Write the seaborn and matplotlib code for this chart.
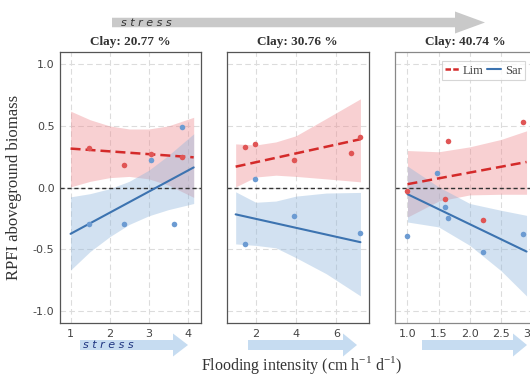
import matplotlib
matplotlib.use("Agg")
import matplotlib.pyplot as plt
import seaborn as sns
import pandas as pd
from matplotlib.patches import Polygon
from matplotlib.lines import Line2D

# ---------------- data ----------------
clay_titles = ["Clay: 20.77 %", "Clay: 30.76 %", "Clay: 40.74 %"]
species = ["Lim", "Sar"]

# Panel 1 (Clay 20.77 %)
p1_lim_x = [1.48, 2.38, 3.05, 3.85]
p1_lim_y = [0.32, 0.18, 0.27, 0.25]
p1_sar_x = [1.48, 2.38, 3.05, 3.64, 3.85]
p1_sar_y = [-0.30, -0.30, 0.22, -0.30, 0.49]
p1_fit_x = [1.0, 4.15]
p1_lim_fit = [0.316, 0.245]
p1_sar_fit = [-0.376, 0.163]
p1_band_x = [1.0, 1.5, 2.0, 2.5, 3.0, 3.5, 4.15]
p1_lim_hi = [0.62, 0.55, 0.50, 0.475, 0.475, 0.50, 0.57]
p1_lim_lo = [0.005, 0.05, 0.08, 0.09, 0.07, 0.02, -0.08]
p1_sar_hi = [-0.076, -0.05, -0.01, 0.05, 0.14, 0.26, 0.436]
p1_sar_lo = [-0.67, -0.52, -0.40, -0.30, -0.23, -0.18, -0.13]

# Panel 2 (Clay 30.76 %)
p2_lim_x = [1.47, 1.95, 3.9, 6.72, 7.2]
p2_lim_y = [0.33, 0.357, 0.223, 0.283, 0.414]
p2_sar_x = [1.47, 1.95, 3.9, 7.2]
p2_sar_y = [-0.455, 0.065, -0.234, -0.368]
p2_fit_x = [1.0, 7.2]
p2_lim_fit = [0.169, 0.392]
p2_sar_fit = [-0.218, -0.444]
p2_band_x = [1.0, 2.0, 3.0, 4.0, 5.5, 7.2]
p2_lim_hi = [0.354, 0.345, 0.37, 0.42, 0.56, 0.72]
p2_lim_lo = [0.005, 0.085, 0.10, 0.09, 0.07, 0.046]
p2_sar_hi = [-0.035, -0.12, -0.11, -0.07, -0.045, -0.04]
p2_sar_lo = [-0.458, -0.47, -0.49, -0.57, -0.70, -0.88]

# Panel 3 (Clay 40.74 %)
p3_lim_x = [1.0, 1.6, 1.645, 2.215, 2.86]
p3_lim_y = [-0.027, -0.095, 0.379, -0.267, 0.531]
p3_sar_x = [1.0, 1.48, 1.6, 1.645, 2.215, 2.86]
p3_sar_y = [-0.39, 0.12, -0.158, -0.248, -0.523, -0.381]
p3_fit_x = [1.0, 2.91]
p3_lim_fit = [0.027, 0.207]
p3_sar_fit = [-0.054, -0.52]
p3_band_x = [1.0, 1.5, 2.0, 2.5, 2.91]
p3_lim_hi = [0.30, 0.29, 0.33, 0.39, 0.46]
p3_lim_lo = [-0.24, -0.11, -0.06, -0.055, -0.055]
p3_sar_hi = [0.174, 0.005, -0.13, -0.185, -0.226]
p3_sar_lo = [-0.28, -0.32, -0.47, -0.675, -0.88]

y_ticks = [-1.0, -0.5, 0.0, 0.5, 1.0]
x_ticks = [[1, 2, 3, 4], [2, 4, 6], [1.0, 1.5, 2.0, 2.5, 3.0]]
x_ticklabels = [["1", "2", "3", "4"], ["2", "4", "6"], ["1.0", "1.5", "2.0", "2.5", "3.0"]]
x_limits = [(0.73, 4.35), (0.57, 7.6), (0.80, 3.07)]

panels = [
    dict(lim_x=p1_lim_x, lim_y=p1_lim_y, sar_x=p1_sar_x, sar_y=p1_sar_y,
         fit_x=p1_fit_x, lim_fit=p1_lim_fit, sar_fit=p1_sar_fit,
         band_x=p1_band_x, lim_hi=p1_lim_hi, lim_lo=p1_lim_lo,
         sar_hi=p1_sar_hi, sar_lo=p1_sar_lo),
    dict(lim_x=p2_lim_x, lim_y=p2_lim_y, sar_x=p2_sar_x, sar_y=p2_sar_y,
         fit_x=p2_fit_x, lim_fit=p2_lim_fit, sar_fit=p2_sar_fit,
         band_x=p2_band_x, lim_hi=p2_lim_hi, lim_lo=p2_lim_lo,
         sar_hi=p2_sar_hi, sar_lo=p2_sar_lo),
    dict(lim_x=p3_lim_x, lim_y=p3_lim_y, sar_x=p3_sar_x, sar_y=p3_sar_y,
         fit_x=p3_fit_x, lim_fit=p3_lim_fit, sar_fit=p3_sar_fit,
         band_x=p3_band_x, lim_hi=p3_lim_hi, lim_lo=p3_lim_lo,
         sar_hi=p3_sar_hi, sar_lo=p3_sar_lo),
]

# ---------------- style ----------------
sns.set_theme(style="white")
plt.rcParams["font.family"] = ["DejaVu Sans"]
plt.rcParams["axes.unicode_minus"] = False
SERIF = "Liberation Serif"

LIM_LINE = "#d42a2a"
LIM_PT = "#e05555"
LIM_BAND = "#ee8a8f"
SAR_LINE = "#3c73b0"
SAR_PT = "#6c9bd2"
SAR_BAND = "#8fb6dc"

W, H = 530, 376
fig = plt.figure(figsize=(W / 100, H / 100), dpi=100)
fig.patch.set_facecolor("white")

lefts = [60, 227, 395]
width_px = 141.5
top_px, bot_px = 52, 323

axes = []
for i, p in enumerate(panels):
    ax = fig.add_axes([lefts[i] / W, (H - bot_px) / H, width_px / W, (bot_px - top_px) / H])
    axes.append(ax)
    ax.set_facecolor("white")
    ax.set_xlim(*x_limits[i])
    ax.set_ylim(-1.1, 1.1)
    ax.set_xticks(x_ticks[i])
    ax.set_xticklabels(x_ticklabels[i])
    ax.set_yticks(y_ticks)
    ax.set_yticklabels([f"{v:.1f}" for v in y_ticks])
    ax.grid(True, linestyle=(0, (5, 3)), color="#dcdcdc", linewidth=0.8)
    ax.set_axisbelow(True)
    ax.tick_params(axis="both", length=0, labelsize=8, labelcolor="#444444", pad=4)
    if i > 0:
        ax.tick_params(labelleft=False)
    for s in ax.spines.values():
        s.set_color("#555555" if i < 2 else "#888888")
        s.set_linewidth(0.9)

    # bands
    ax.fill_between(p["band_x"], p["lim_lo"], p["lim_hi"], color=LIM_BAND, alpha=0.4, lw=0, zorder=1)
    ax.fill_between(p["band_x"], p["sar_lo"], p["sar_hi"], color=SAR_BAND, alpha=0.4, lw=0, zorder=1)

    ax.axhline(0, color="#333333", lw=1.0, linestyle=(0, (3, 2)), zorder=2)

    # fitted lines
    sns.lineplot(x=p["fit_x"], y=p["lim_fit"], ax=ax, color=LIM_LINE, lw=1.8,
                 linestyle=(0, (4, 2)), zorder=4)
    sns.lineplot(x=p["fit_x"], y=p["sar_fit"], ax=ax, color=SAR_LINE, lw=1.5, zorder=4)

    # points
    sns.scatterplot(x=p["lim_x"], y=p["lim_y"], ax=ax, color=LIM_PT, s=16, linewidth=0, zorder=5)
    sns.scatterplot(x=p["sar_x"], y=p["sar_y"], ax=ax, color=SAR_PT, s=16, linewidth=0, zorder=5)

    ax.set_xlabel("")
    ax.set_ylabel("")
    ax.set_title(clay_titles[i], fontsize=9.5, fontweight="bold", family=SERIF,
                 color="#333333", pad=5)

axes[0].set_ylabel("RPFI aboveground biomass", fontsize=12, family=SERIF,
                   color="#333333", labelpad=8)

handles = [Line2D([], [], color=LIM_LINE, lw=1.8, linestyle=(0, (2.2, 0.9))),
           Line2D([], [], color=SAR_LINE, lw=1.5)]
leg = axes[2].legend(handles, species, ncol=2, loc="upper left",
                     bbox_to_anchor=(0.33, 0.965), prop={"family": SERIF, "size": 9},
                     frameon=True, fancybox=False, edgecolor="#cccccc",
                     handlelength=1.1, handletextpad=0.3, columnspacing=0.35,
                     borderpad=0.25, borderaxespad=0)
leg.get_frame().set_linewidth(0.8)
for t in leg.get_texts():
    t.set_color("#444444")

# ---------------- decorations (pixel overlay) ----------------
ov = fig.add_axes([0, 0, 1, 1], zorder=10)
ov.set_xlim(0, W)
ov.set_ylim(H, 0)
ov.axis("off")

def arrow(x0, xb, xt, yc, bh, hh, color):
    pts = [(x0, yc - bh / 2), (xb, yc - bh / 2), (xb, yc - hh / 2), (xt, yc),
           (xb, yc + hh / 2), (xb, yc + bh / 2), (x0, yc + bh / 2)]
    ov.add_patch(Polygon(pts, closed=True, facecolor=color, edgecolor="none"))

arrow(112, 455, 485, 22.5, 9.5, 22, "#c9c9c9")
ov.text(121, 22.5, "s t r e s s", fontsize=8, style="italic", color="#333333",
        va="center", ha="left")

blue_arrow = "#c6dcf1"
arrow(80, 173, 188, 345, 10, 23, blue_arrow)
arrow(248, 343, 357, 345, 10, 23, blue_arrow)
arrow(422, 513, 527, 345, 10, 23, blue_arrow)
ov.text(83, 345.5, "s t r e s s", fontsize=8, style="italic", color="#1f3580",
        va="center", ha="left")

ov.text(302, 364.5, "Flooding intensity (cm h$^{\\mathregular{-1}}$ d$^{\\mathregular{-1}}$)",
        fontsize=11.5, family=SERIF, color="#333333", ha="center", va="center")

fig.savefig("out.png", dpi=100, facecolor="white")
